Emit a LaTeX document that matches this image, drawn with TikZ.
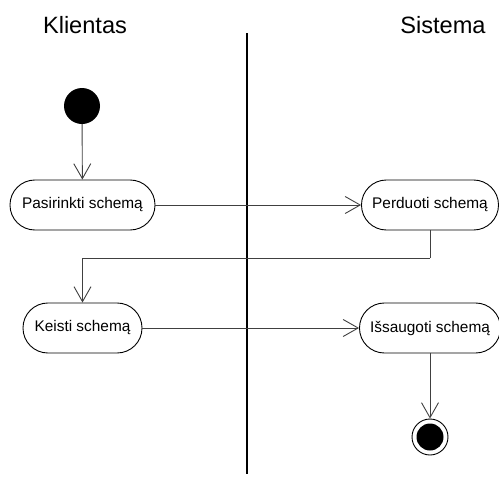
\documentclass[tikz,border=0pt]{standalone}
\usepackage{fontspec}
\setmainfont{Liberation Sans}
\usetikzlibrary{arrows.meta}
\begin{document}
\begin{tikzpicture}[x=1pt,y=1pt,
  lane/.style={font=\fontsize{23.6}{26}\selectfont},
  action/.style={draw=black, line width=0.9pt, rectangle, rounded corners=24.9pt,
    minimum height=50pt, inner sep=0pt, font=\fontsize{15.4}{18}\selectfont},
  flow/.style={draw=black!75, line width=0.9pt,
    -{Straight Barb[length=15pt,width=17pt,line width=0.9pt]}},
  flowplain/.style={draw=black!75, line width=0.9pt}]
  \useasboundingbox (0,0) rectangle (499,-477);

  % swimlane headers and divider
  \node[lane] (kl) at (85,-25) {Klientas};
  \node[lane] (si) at (443,-25) {Sistema};
  \coordinate (divtop) at (247,-33);
  \coordinate (divbot) at (247,-474);
  \draw[line width=1.1pt] (divtop) -- (divbot);

  % initial and final states
  \node[circle, fill=black, minimum size=36pt, inner sep=0pt] (start) at (82,-106) {};
  \node[circle, draw=black, line width=0.9pt, minimum size=36pt, inner sep=0pt] (end) at (430,-437) {};
  \fill (end.center) circle (13.5pt);

  % actions
  \node[action, minimum width=145pt] (pas) at (82.5,-205) {Pasirinkti schemą};
  \node[action, minimum width=137pt] (per) at (430,-205) {Perduoti schemą};
  \node[action, minimum width=119pt] (kei) at (82.5,-328) {Keisti schemą};
  \node[action, minimum width=141pt] (isa) at (430,-328) {Išsaugoti schemą};

  % control flow
  \draw[flow] (start) -- (pas);
  \draw[flow] (pas) -- (per);
  \coordinate (bend) at (430,-258);
  \draw[flowplain] (per.south) -- (bend);
  \draw[flow] (bend) -| (kei.north);
  \draw[flow] (kei) -- (isa);
  \draw[flow] (isa) -- (end);
\end{tikzpicture}
\end{document}
